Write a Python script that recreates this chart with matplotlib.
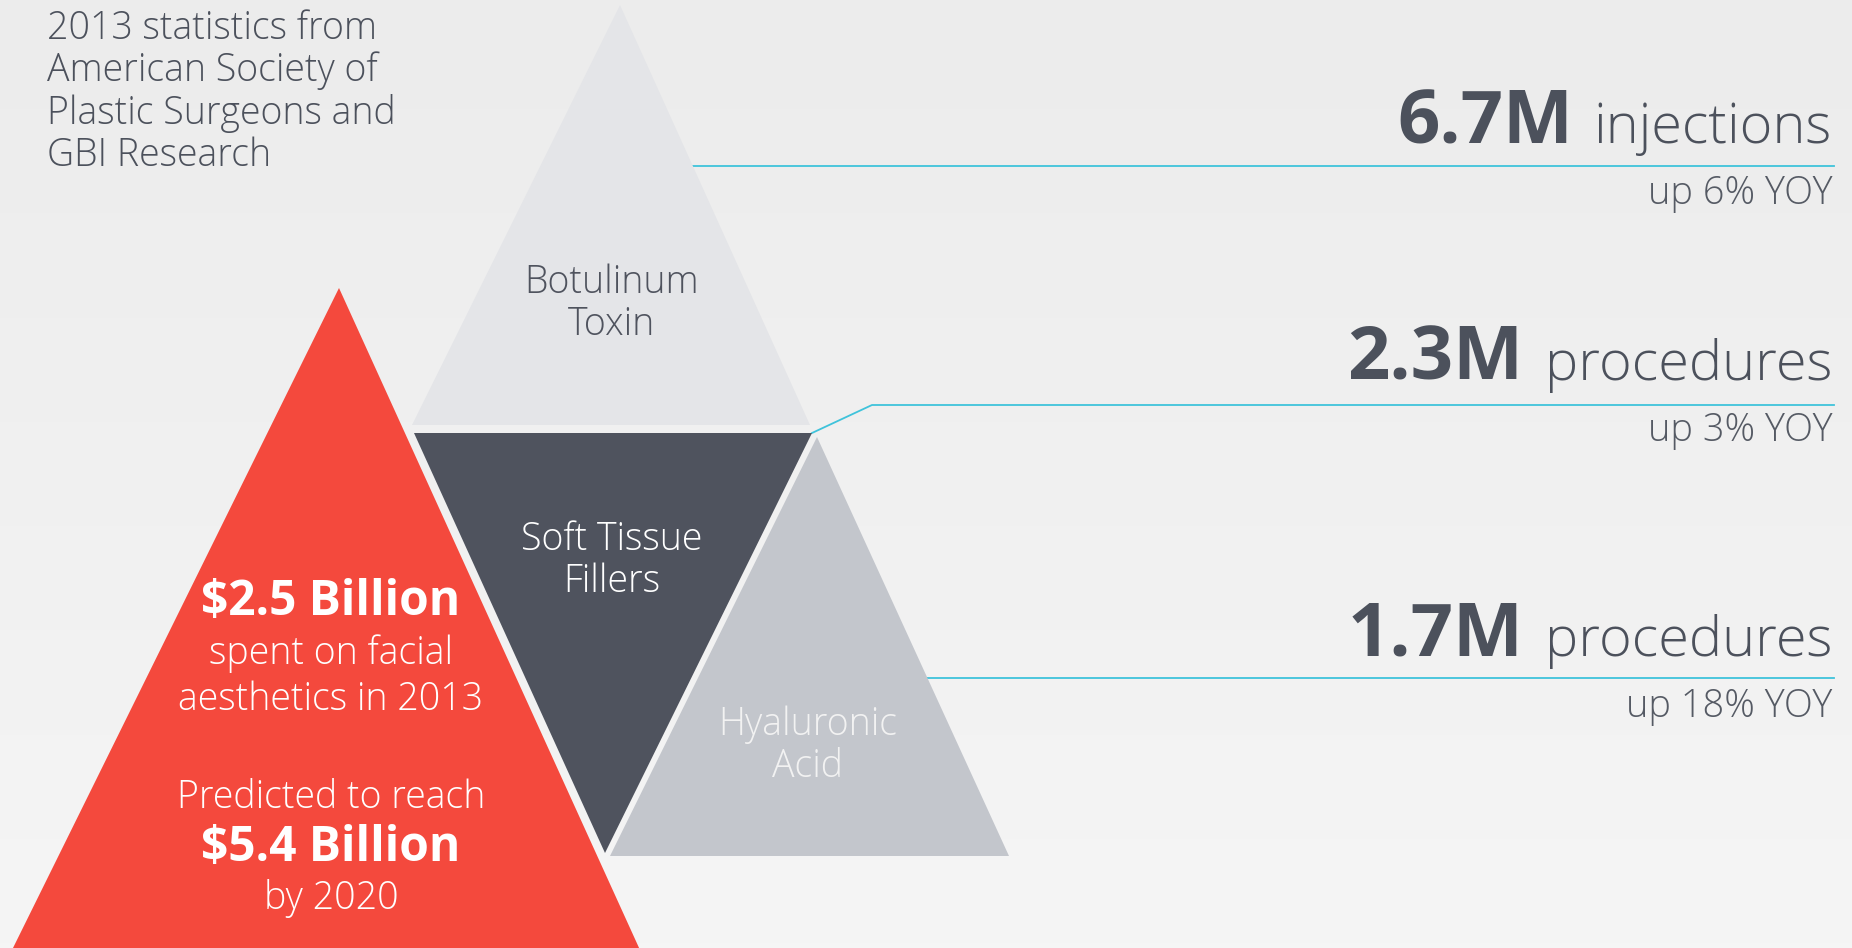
import numpy as np
import matplotlib
matplotlib.use("Agg")
import matplotlib.pyplot as plt
from matplotlib.patches import Polygon

plt.rcParams['font.family'] = ['Open Sans', 'DejaVu Sans']

# Dados
categorias = ["Botulinum\nToxin", "Soft Tissue\nFillers", "Hyaluronic\nAcid"]
valores = ["6.7M", "2.3M", "1.7M"]
unidades = ["injections", "procedures", "procedures"]
crescimento = [6, 3, 18]
fonte = "2013 statistics from\nAmerican Society of\nPlastic Surgeons and\nGBI Research"
gasto_2013 = "$2.5 Billion"
gasto_2020 = "$5.4 Billion"

# Cores
cor_fundo = "#f0f0ef"
cor_texto = "#4c515c"
cor_linha = "#3fc3db"
cor_vermelho = "#f4493d"
cores_tri = ["#e4e5e8", "#4f535e", "#c3c6cc"]
cores_rotulo = ["#4f535e", "#ffffff", "#f2f2f2"]

W, H = 1852, 948
fig = plt.figure(figsize=(W / 100, H / 100), dpi=100)
fig.patch.set_facecolor(cor_fundo)
ax = fig.add_axes([0, 0, 1, 1])
ax.set_xlim(0, W)
ax.set_ylim(H, 0)
ax.axis("off")

# fundo com leve gradiente
grad = np.linspace(0, 1, 200).reshape(-1, 1)
ax.imshow(grad, extent=[0, W, H, 0], cmap=matplotlib.colors.LinearSegmentedColormap.from_list(
    "bg", ["#ececec", "#f5f5f5"]), aspect="auto", zorder=0)

# triangulos (forma do infografico)
formas = [
    [(620, 5), (412, 425), (810, 425)],
    [(414, 433), (812, 433), (605, 853)],
    [(817, 437), (610, 856), (1009, 856)],
]
centros_rotulo = [(612, 304), (612, 561), (808, 746)]
for verts, cor, cor_r, cat, c in zip(formas, cores_tri, cores_rotulo, categorias, centros_rotulo):
    ax.add_patch(Polygon(verts, closed=True, facecolor=cor, edgecolor="none", zorder=3))
    ax.text(c[0], c[1], cat, ha="center", va="center", fontsize=27, fontweight="light",
            color=cor_r, linespacing=1.12, zorder=5)

ax.add_patch(Polygon([(339, 288), (12, 950), (640, 950)], closed=True,
                     facecolor=cor_vermelho, edgecolor="none", zorder=3))

# linhas guia
ax.plot([691, 1834], [166, 166], color=cor_linha, lw=1.3, zorder=2)
ax.plot([812, 872, 1834], [433, 405, 405], color=cor_linha, lw=1.3, zorder=2)
ax.plot([927, 1834], [678, 678], color=cor_linha, lw=1.3, zorder=2)

# textos da direita
bases = [143, 380, 656]
for v, u, g, y in zip(valores, unidades, crescimento, bases):
    t = ax.text(1832, y, u, ha="right", va="baseline", fontsize=40.2, fontweight="light",
                color=cor_texto, zorder=5)
    fig.canvas.draw()
    bb = t.get_window_extent()
    ax.text(bb.x0 - 21, y, v, ha="right", va="baseline", fontsize=53.5, fontweight="bold",
            color=cor_texto, zorder=5)
    ax.text(1832, y + 61, f"up {g}% YOY", ha="right", va="baseline", fontsize=27.3,
            color="#555a64", fontweight="light", zorder=5)

# fonte
ax.text(47, 9, fonte, ha="left", va="top", fontsize=27, fontweight="light",
        color=cor_texto, linespacing=1.13, zorder=5)

# texto no triangulo vermelho
ax.text(331, 603, gasto_2013, ha="center", va="center", fontsize=34.5, fontweight="bold",
        color="white", zorder=5)
ax.text(331, 677, "spent on facial\naesthetics in 2013", ha="center", va="center",
        fontsize=27, fontweight="light", color="white", linespacing=1.26, zorder=5)
ax.text(331, 798, "Predicted to reach", ha="center", va="center", fontsize=27,
        fontweight="light", color="white", zorder=5)
ax.text(331, 848, gasto_2020, ha="center", va="center", fontsize=34.5, fontweight="bold",
        color="white", zorder=5)
ax.text(331, 899, "by 2020", ha="center", va="center", fontsize=27,
        fontweight="light", color="white", zorder=5)

fig.savefig("out.png", dpi=100, facecolor=fig.get_facecolor())
